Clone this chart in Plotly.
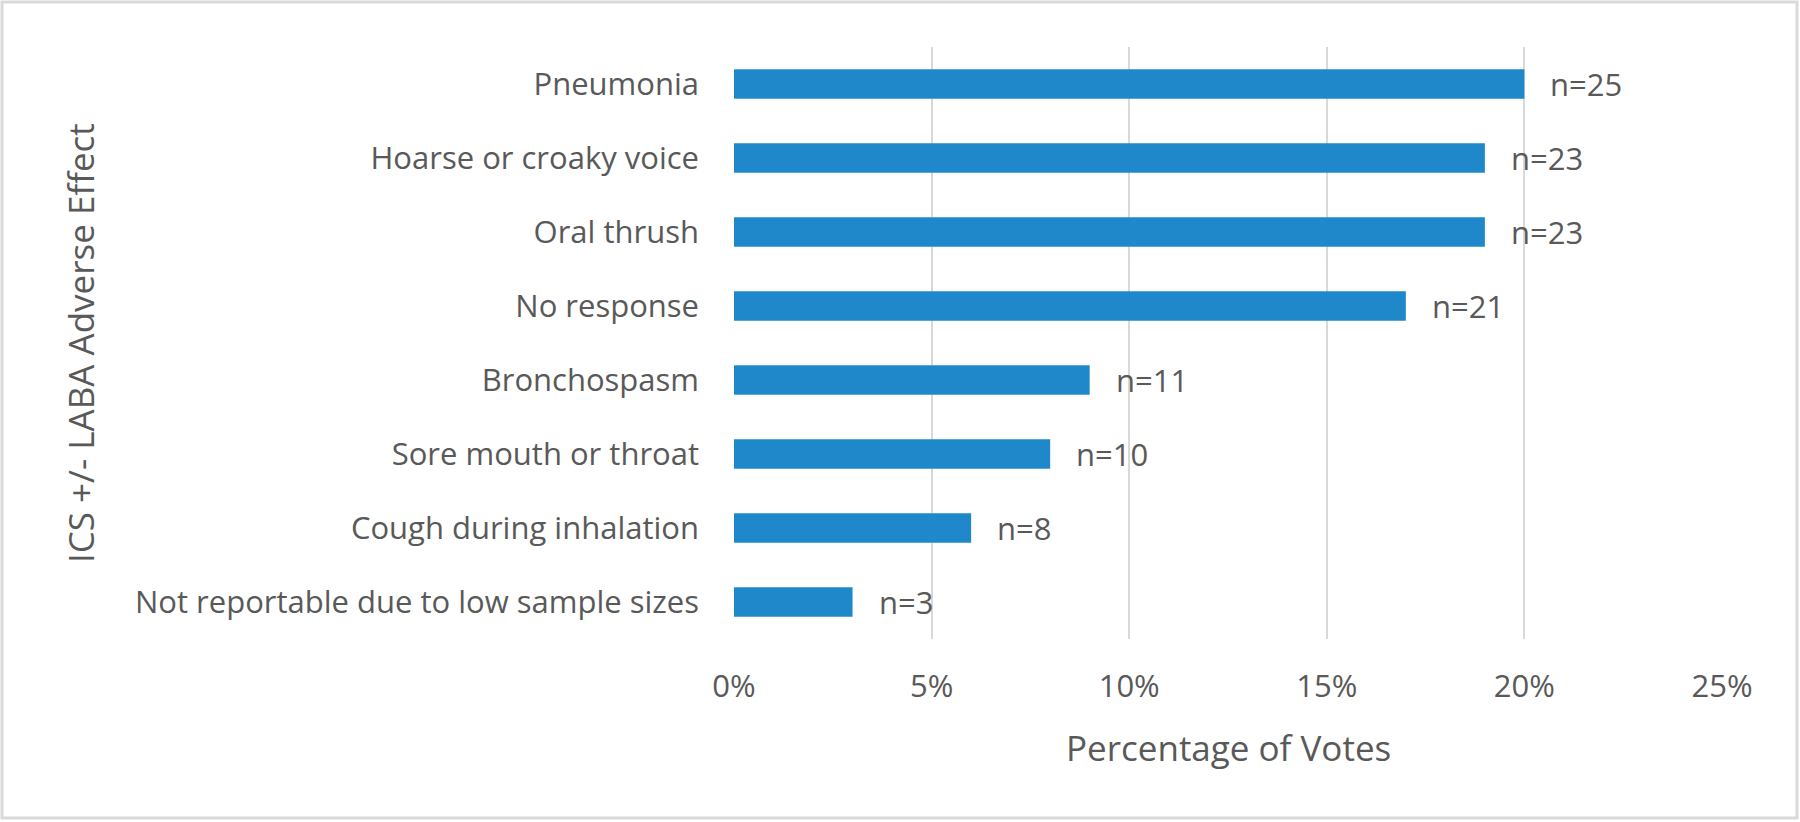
import plotly.graph_objects as go

categories = [
    "Pneumonia",
    "Hoarse or croaky voice",
    "Oral thrush",
    "No response",
    "Bronchospasm",
    "Sore mouth or throat",
    "Cough during inhalation",
    "Not reportable due to low sample sizes",
]
percent_votes = [20, 19, 19, 17, 9, 8, 6, 3]
counts = [25, 23, 23, 21, 11, 10, 8, 3]
x_tick_values = [0, 5, 10, 15, 20, 25]
x_tick_labels = ["0%", "5%", "10%", "15%", "20%", "25%"]

W, H = 1800, 822
L, R, T, B = 734, 78, 47, 183
PW, PH = W - L - R, H - T - B

TEXT = "#595959"
GRID = "#d9d9d9"
BAR = "#1f88cb"
FONT = "Open Sans"

fig = go.Figure()
fig.add_trace(go.Bar(
    y=categories,
    x=percent_votes,
    orientation="h",
    marker=dict(color=BAR, line=dict(width=0)),
    hoverinfo="skip",
))

for cat, v, n in zip(categories, percent_votes, counts):
    fig.add_annotation(
        x=v, y=cat, xref="x", yref="y",
        text=f"n={n}", showarrow=False,
        xanchor="left", yanchor="middle", xshift=24,
        font=dict(family=FONT, size=31, color=TEXT),
    )

# axis titles
fig.add_annotation(
    x=(1228 - L) / PW, y=1 - (747 - T) / PH, xref="paper", yref="paper",
    text="Percentage of Votes", showarrow=False,
    xanchor="center", yanchor="middle",
    font=dict(family=FONT, size=35, color=TEXT),
)
fig.add_annotation(
    x=(80 - L) / PW, y=1 - (343 - T) / PH, xref="paper", yref="paper",
    text="ICS +/- LABA Adverse Effect", showarrow=False, textangle=-90,
    xanchor="center", yanchor="middle",
    font=dict(family=FONT, size=35, color=TEXT),
)

# chart-area border
fig.add_shape(
    type="rect", xref="paper", yref="paper",
    x0=(2 - L) / PW, x1=(1797 - L) / PW,
    y0=1 - (818 - T) / PH, y1=1 - (2 - T) / PH,
    line=dict(color=GRID, width=3), fillcolor="rgba(0,0,0,0)", layer="below",
)

fig.update_layout(
    width=W, height=H,
    margin=dict(l=L, r=R, t=T, b=B, autoexpand=False),
    paper_bgcolor="white", plot_bgcolor="white",
    showlegend=False, bargap=0.6,
    font=dict(family=FONT, color=TEXT),
)
fig.update_xaxes(
    range=[0, 25], tickvals=x_tick_values, ticktext=x_tick_labels,
    showgrid=True, gridcolor=GRID, gridwidth=2,
    zeroline=False, showline=False, ticks="",
    tickfont=dict(family=FONT, size=31, color=TEXT),
    ticklabelstandoff=26, automargin=False, fixedrange=True,
)
fig.update_yaxes(
    categoryorder="array", categoryarray=categories, autorange="reversed",
    showgrid=False, zeroline=False, showline=False, ticks="",
    tickfont=dict(family=FONT, size=31, color=TEXT),
    ticklabelstandoff=34, automargin=False, fixedrange=True,
)

fig.write_html(
    "out.html",
    config={"displayModeBar": False},
    post_script="document.body.style.margin='0';document.body.style.overflow='hidden';",
)
